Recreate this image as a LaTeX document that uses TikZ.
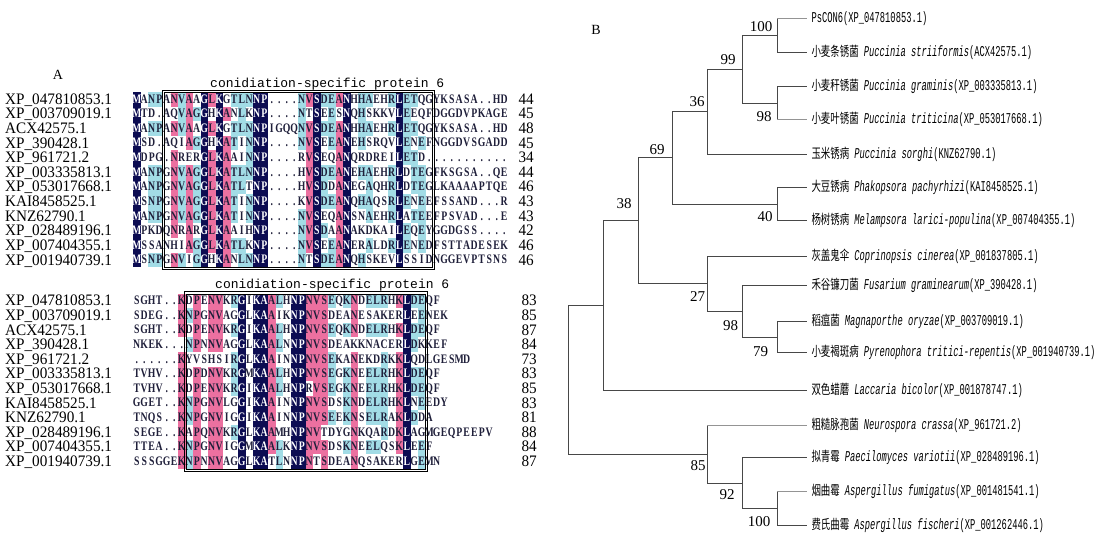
\documentclass[tikz,border=0pt]{standalone}
\usepackage{fontspec}
\setmainfont{Liberation Serif}
\newfontfamily\namefont[FakeStretch=0.95]{Liberation Serif}
\newfontfamily\alnfont[FakeStretch=0.75]{Liberation Serif}
\newfontfamily\titlefont{Liberation Mono}
\newfontfamily\leaffont[FakeStretch=0.585]{Liberation Mono}
\newfontfamily\cjk[FakeStretch=0.7]{Noto Sans CJK SC}
\definecolor{alnnavy}{HTML}{0C0C52}
\definecolor{alnpink}{HTML}{EC70A0}
\definecolor{alncyan}{HTML}{A2DCE6}
\definecolor{alntext}{HTML}{1F1F3A}
\tikzset{
  lev1/.style={fill=alncyan},
  lev2/.style={fill=alnpink},
  lev3/.style={fill=alnnavy},
  alnrowsty/.style={anchor=base west, inner sep=0pt, outer sep=0pt, font=\alnfont\bfseries\fontsize{13}{15}\selectfont, text=alntext},
  seqname/.style={anchor=base west, inner sep=0pt, font=\namefont\fontsize{16}{18}\selectfont},
  seqnum/.style={anchor=base east, inner sep=0pt, font=\namefont\fontsize{16}{18}\selectfont},
  ttl/.style={anchor=base west, inner sep=0pt, font=\titlefont\fontsize{13}{15}\selectfont},
  panel/.style={inner sep=0pt, font=\fontsize{14}{16}\selectfont},
  frm/.style={draw=black, line width=0.6pt},
  br/.style={draw=black!72, line width=0.75pt},
  brl/.style={draw=black!42},
  leaf/.style={anchor=west, inner sep=0pt, outer sep=4.5pt, font=\leaffont\fontsize{15}{17}\selectfont},
  bs/.style={inner sep=0pt, font=\fontsize{15}{17}\selectfont},
}
\newcommand\alncell[3]{\fill[lev#3] (#1,#2) rectangle ++(7.6,14.7);}
\newcommand\alnch[2]{\makebox[7.5pt][c]{\ifnum#1=3 \textcolor{white}{#2}\else #2\fi}}
\newcommand\alnrow[4]{\node[alnrowsty] (#4) at (#1,#2) {#3};}
\newcommand\lf[3]{{\cjk\fontsize{13.5}{16}\selectfont #1}\hspace{5pt}{\itshape #2}#3}
\newcommand\clade[5]{\draw[br] (#1 |- #2) -- (#1 |- #3); \draw[br,#4] (#1 |- #2) -- (#2); \draw[br,#5] (#1 |- #3) -- (#3);}

\ExplSyntaxOn
\seq_new:N \l__aln_rows_seq
\seq_new:N \l__aln_lev_seq
\seq_new:N \l__aln_cons_seq
\int_new:N \l__aln_n_int
\int_new:N \l__aln_len_int
\int_new:N \l__aln_best_int
\int_new:N \l__aln_cnt_int
\int_new:N \l__aln_row_int
\int_new:N \l__aln_lev_int
\tl_new:N \l__aln_best_tl
\tl_new:N \l__aln_ch_tl
\tl_new:N \l__aln_text_tl
\cs_new_protected:Npn \__aln_count:nn #1#2
  {
    \int_zero:N \l__aln_cnt_int
    \seq_map_inline:Nn \l__aln_rows_seq
      {
        \str_if_eq:eeT { \str_item:nn {##1} {#2} } {#1}
          { \int_incr:N \l__aln_cnt_int }
      }
  }
\cs_generate_variant:Nn \__aln_count:nn { V }
\cs_new_protected:Npn \__aln_consensus:n #1
  {
    \int_zero:N \l__aln_best_int
    \tl_clear:N \l__aln_best_tl
    \seq_map_inline:Nn \l__aln_rows_seq
      {
        \tl_set:Nx \l__aln_ch_tl { \str_item:nn {##1} {#1} }
        \bool_lazy_or:nnF
          { \tl_if_empty_p:N \l__aln_ch_tl }
          { \str_if_eq_p:ee { \l__aln_ch_tl } { . } }
          {
            \__aln_count:Vn \l__aln_ch_tl {#1}
            \int_compare:nNnT { \l__aln_cnt_int } > { \l__aln_best_int }
              {
                \int_set_eq:NN \l__aln_best_int \l__aln_cnt_int
                \tl_set_eq:NN \l__aln_best_tl \l__aln_ch_tl
              }
          }
      }
  }
\cs_new_protected:Npn \aln_block:nnnn #1#2#3#4
  {
    \seq_set_from_clist:Nn \l__aln_rows_seq {#4}
    \int_set:Nn \l__aln_n_int { \seq_count:N \l__aln_rows_seq }
    \int_zero:N \l__aln_len_int
    \seq_map_inline:Nn \l__aln_rows_seq
      { \int_set:Nn \l__aln_len_int { \int_max:nn { \l__aln_len_int } { \str_count:n {##1} } } }
    \seq_clear:N \l__aln_lev_seq
    \seq_clear:N \l__aln_cons_seq
    \int_step_inline:nn { \l__aln_len_int }
      {
        \__aln_consensus:n {##1}
        \int_compare:nNnTF { \l__aln_best_int } = { \l__aln_n_int }
          { \int_set:Nn \l__aln_lev_int { 3 } }
          {
            \int_compare:nNnTF { 4 * \l__aln_best_int } < { 3 * \l__aln_n_int }
              {
                \int_compare:nNnTF { 2 * \l__aln_best_int } < { \l__aln_n_int }
                  { \int_set:Nn \l__aln_lev_int { 0 } }
                  { \int_set:Nn \l__aln_lev_int { 1 } }
              }
              { \int_set:Nn \l__aln_lev_int { 2 } }
          }
        \seq_put_right:Nx \l__aln_lev_seq { \int_use:N \l__aln_lev_int }
        \seq_put_right:NV \l__aln_cons_seq \l__aln_best_tl
      }
    \int_zero:N \l__aln_row_int
    \seq_map_inline:Nn \l__aln_rows_seq
      {
        \int_incr:N \l__aln_row_int
        \tl_clear:N \l__aln_text_tl
        \int_step_inline:nn { \str_count:n {##1} }
          {
            \tl_set:Nx \l__aln_ch_tl { \str_item:nn {##1} {####1} }
            \int_zero:N \l__aln_lev_int
            \str_if_eq:eeT { \l__aln_ch_tl } { \seq_item:Nn \l__aln_cons_seq {####1} }
              { \int_set:Nn \l__aln_lev_int { \seq_item:Nn \l__aln_lev_seq {####1} } }
            \int_compare:nNnT { \l__aln_lev_int } > { 0 }
              {
                \use:x
                  {
                    \exp_not:N \alncell
                      { \fp_eval:n { #1 + (####1 - 1) * 7.5 } }
                      { \fp_eval:n { #2 + (\l__aln_row_int - 1) * 14.6 } }
                      { \int_use:N \l__aln_lev_int }
                  }
              }
            \tl_put_right:Nx \l__aln_text_tl
              { \exp_not:N \alnch { \int_use:N \l__aln_lev_int } { \l__aln_ch_tl } }
          }
        \use:x
          {
            \exp_not:N \alnrow
              { #1 }
              { \fp_eval:n { #2 + (\l__aln_row_int - 1) * 14.6 + 11.2 } }
              { \exp_not:V \l__aln_text_tl }
              { #3 \int_use:N \l__aln_row_int }
          }
      }
  }
\NewDocumentCommand \alnblock { m m m m } { \aln_block:nnnn {#1} {#2} {#3} {#4} }
\ExplSyntaxOff

\begin{document}
\begin{tikzpicture}[x=1pt,y=-1pt]
\useasboundingbox (0,0) rectangle (1100,540);
\fill[white] (0,0) rectangle (1100,540);

% ---------------- Panel A ----------------
\node[panel] (pA) at (58,75) {A};
\node[ttl] (t1) at (210,87.5) {conidiation-specific protein 6};
\node[ttl] (t2) at (215,288) {conidiation-specific protein 6};

\alnblock{133}{92}{a}{MANPANVAAGLKGTLNNP....NVSDEANHHAEHRLETQGYKSASA..HD,
MTD.AQVAGGHKANLKNP....NTSEESNQHSKKVLEEQFDGGDVPKAGE,
MANPANVAAGLKGTLNNPIGQQNVSDEANHHAEHRLETQGYKSASA..HD,
MSD.AQIAGGHKATINNP....NVSEEANEHSRQVLENEFNGGDVSGADD,
MDPG.NRERGLKAAINNP....RVSEQANQRDREILETD...........,
MANPGNVAGGLKATLNNP....HVSDEANEHAEHRLDTEGFKSGSA..QE,
MANPGNVAGGLKATLTNP....HVSDDANEGAQHRLDTEGLKAAAAPTQE,
MSNPGNVAGGLKATINNP....KVSDEANQHAQSRLENEEFSSAND...R,
MANPGNVAGGLKATINNP....NVSEQANSNAEHRLATEEFPSVAD...E,
MPKDQNRARGLKAAIHNP....NVSDAANAKDKAILEQEYGGDGSS....,
MSSANHIAGGLKATLKNP....NVSEEANERALDRLENEDFSTTADESEK,
MSNPGNVIGGHKANLNNP....NTSDEANQHSKEVLSSIDNGGEVPTSNS}

\alnblock{133}{293.5}{b}{SGHT..KDPENVKRGIKAALHNPNVSEQKNDELRHKLDEQF,
SDEG..KNPGNVAGGLKAAIKNPNVSDEANESAKERLEENEK,
SGHT..KDPENVKRGIKAALHNPNVSEQKNDELRHKLDEQF,
NKEK...NPNNVAGGLKAALNNPNVSDEAKKNACERLDKKEF,
......KYVSHSIRGLKAAINNPNVSEKANEKDRKKLQDLGESMD,
TVHV..KDPDNVKRGMKAALHNPNVSEGKNEELRHKLDEQF,
TVHV..KDPENVKRGIKAALHNPRVSEGKNEELRHKLDEQF,
GGET..KNPGNVLGGIKAAINNPNVSDSKNDELRHKLNEEDY,
TNQS..KNPGNVIGGIKAAINNPNVSEEKNSELRAKLDDA,
SEGE..KAPQNVKRGLKAAMHNPNVTDYGNKQARDKLAGMGEQPEEPV,
TTEA..KNPGNVIGGMKAALKNPNVSDSKNEELQSKLEEF,
SSSGGEKNPNNVAGGLKATLNNPNTSDEANQSAKERLGEMN}

% frames
\draw[frm] (161.8,90.2) rectangle (434.6,269.2);
\draw[frm, line width=0.4pt] (163.8,92.2) rectangle (432.6,267.2);
\draw[frm] (184.3,291.7) rectangle (427.1,470.8);
\draw[frm, line width=0.4pt] (186.3,293.7) rectangle (425.1,468.8);

% names and lengths
\foreach \nm/\la/\lb [count=\i] in {XP\_047810853.1/44/83, XP\_003709019.1/45/85, ACX42575.1/48/87,
  XP\_390428.1/45/84, XP\_961721.2/34/73, XP\_003335813.1/44/83, XP\_053017668.1/46/85,
  KAI8458525.1/43/83, KNZ62790.1/43/81, XP\_028489196.1/42/88, XP\_007404355.1/46/84,
  XP\_001940739.1/46/87}{
  \node[seqname] (na\i) at (5,{92+(\i-1)*14.6+12.4}) {\nm};
  \node[seqnum] (ka\i) at (534,{92+(\i-1)*14.6+12.4}) {\la};
  \node[seqname] (nb\i) at (5,{293.5+(\i-1)*14.6+12.4}) {\nm};
  \node[seqnum] (kb\i) at (537,{293.5+(\i-1)*14.6+12.4}) {\lb};
}

% ---------------- Panel B ----------------
\node[panel] (pB) at (596,30) {B};

\node[leaf] (L1) at (807,18.3) {PsCON6(XP\_047810853.1)};
\node[leaf] (L2) at (807,52) {\lf{小麦条锈菌}{Puccinia striiformis}{(ACX42575.1)}};
\node[leaf] (L3) at (807,86.7) {\lf{小麦秆锈菌}{Puccinia graminis}{(XP\_003335813.1)}};
\node[leaf] (L4) at (807,119) {\lf{小麦叶锈菌}{Puccinia triticina}{(XP\_053017668.1)}};
\node[leaf] (L5) at (807,154) {\lf{玉米锈病}{Puccinia sorghi}{(KNZ62790.1)}};
\node[leaf] (L6) at (807,187.3) {\lf{大豆锈病}{Phakopsora pachyrhizi}{(KAI8458525.1)}};
\node[leaf] (L7) at (807,220.7) {\lf{杨树锈病}{Melampsora larici-populina}{(XP\_007404355.1)}};
\node[leaf] (L8) at (807,256) {\lf{灰盖鬼伞}{Coprinopsis cinerea}{(XP\_001837805.1)}};
\node[leaf] (L9) at (807,285) {\lf{禾谷镰刀菌}{Fusarium graminearum}{(XP\_390428.1)}};
\node[leaf] (L10) at (807,321.7) {\lf{稻瘟菌}{Magnaporthe oryzae}{(XP\_003709019.1)}};
\node[leaf] (L11) at (807,352.7) {\lf{小麦褐斑病}{Pyrenophora tritici-repentis}{(XP\_001940739.1)}};
\node[leaf] (L12) at (807,390) {\lf{双色蜡蘑}{Laccaria bicolor}{(XP\_001878747.1)}};
\node[leaf] (L13) at (807,425) {\lf{粗糙脉孢菌}{Neurospora crassa}{(XP\_961721.2)}};
\node[leaf] (L14) at (807,457.7) {\lf{拟青霉}{Paecilomyces variotii}{(XP\_028489196.1)}};
\node[leaf] (L15) at (807,491) {\lf{烟曲霉}{Aspergillus fumigatus}{(XP\_001481541.1)}};
\node[leaf] (L16) at (807,525) {\lf{费氏曲霉}{Aspergillus fischeri}{(XP\_001262446.1)}};

\coordinate (ca) at (777,35.2);
\coordinate (cb) at (777,102.9);
\coordinate (cc) at (742,69);
\coordinate (cd) at (707,111.5);
\coordinate (ce) at (777,204);
\coordinate (cf) at (672,157.7);
\coordinate (cg) at (777,337.2);
\coordinate (ch) at (742,311.1);
\coordinate (ci) at (707,283.5);
\coordinate (cj) at (638,220.6);
\coordinate (ck) at (603,305.3);
\coordinate (cl) at (777,508);
\coordinate (cm) at (742,482.9);
\coordinate (cn) at (707,454);
\coordinate (root) at (568,379.6);

\clade{ca}{L1.west}{L2.west}{brl}{}
\clade{cb}{L3.west}{L4.west}{}{brl}
\clade{cc}{ca}{cb}{}{}
\clade{cd}{cc}{L5.west}{}{}
\clade{ce}{L6.west}{L7.west}{}{}
\clade{cf}{cd}{ce}{}{}
\clade{cg}{L10.west}{L11.west}{}{}
\clade{ch}{L9.west}{cg}{}{}
\clade{ci}{L8.west}{ch}{}{}
\clade{cj}{cf}{ci}{}{}
\clade{ck}{cj}{L12.west}{}{}
\clade{cl}{L15.west}{L16.west}{brl}{}
\clade{cm}{L14.west}{cl}{}{}
\clade{cn}{L13.west}{cm}{brl}{}
\clade{root}{ck}{cn}{}{}

\node[bs] (b1) at (761,26.7) {100};
\node[bs] (b2) at (728,59.3) {99};
\node[bs] (b3) at (697,101.7) {36};
\node[bs] (b4) at (764,116.7) {98};
\node[bs] (b5) at (657,149.3) {69};
\node[bs] (b6) at (624,204) {38};
\node[bs] (b7) at (765,216.7) {40};
\node[bs] (b8) at (697.5,296.7) {27};
\node[bs] (b9) at (730.5,325.7) {98};
\node[bs] (b10) at (760.5,351.7) {79};
\node[bs] (b11) at (698,466) {85};
\node[bs] (b12) at (727,495) {92};
\node[bs] (b13) at (759,521.7) {100};
\end{tikzpicture}
\end{document}
